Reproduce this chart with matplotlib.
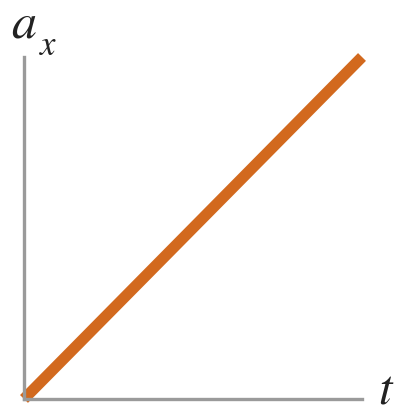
import matplotlib.pyplot as plt

plt.rcParams["mathtext.fontset"] = "stix"

# acceleration grows linearly with time
t = [0, 1]
a_x = [0, 1]

axis_gray = "#9a9a9a"
line_orange = "#d2691e"

fig = plt.figure(figsize=(4.0, 4.13), dpi=100)
ax = fig.add_axes([0.06, 0.034, 0.845, 0.828])

ax.plot(t, a_x, color=line_orange, linewidth=8, solid_capstyle="butt", clip_on=False)
ax.set_xlim(0, 1)
ax.set_ylim(0, 1)

for side in ("top", "right"):
    ax.spines[side].set_visible(False)
for side in ("left", "bottom"):
    ax.spines[side].set_color(axis_gray)
    ax.spines[side].set_linewidth(2.4)
ax.set_xticks([])
ax.set_yticks([])

fig.text(0.028, 0.908, r"$a$", fontsize=36, color="#222222", va="baseline")
fig.text(0.098, 0.868, r"$x$", fontsize=25, color="#222222", va="baseline")
fig.text(0.945, 0.022, r"$t$", fontsize=35, color="#222222", va="baseline")

fig.savefig("out.png", dpi=100)
